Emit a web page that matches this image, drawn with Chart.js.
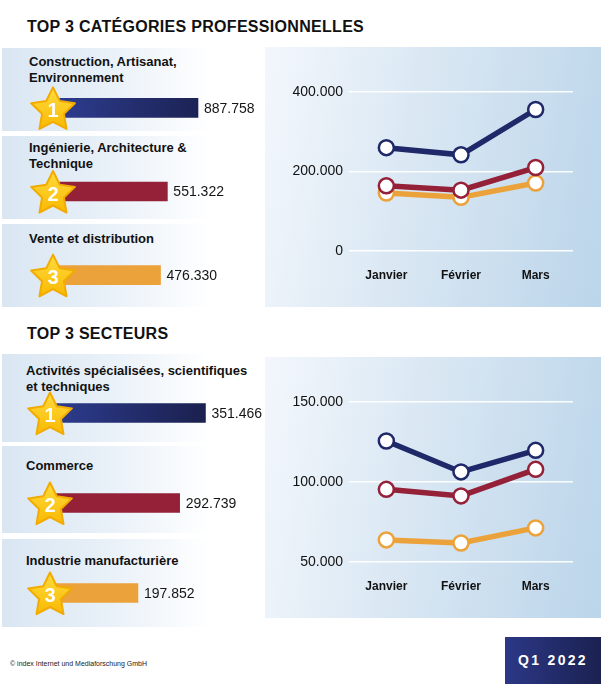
<!DOCTYPE html>
<html lang="fr">
<head>
<meta charset="utf-8">
<script src="https://cdn.jsdelivr.net/npm/chart.js@4.4.1/dist/chart.umd.min.js"></script>
<style>
  body { margin:0; width:601px; height:684px; position:relative; overflow:hidden; background:#fff;
         font-family:"Liberation Sans", Arial, sans-serif; color:#111; }
  .title { position:absolute; left:27px; font-size:16px; line-height:16px; font-weight:bold; letter-spacing:0.3px; }
  .panel { position:absolute; left:2px; width:260px;
           background:linear-gradient(90deg, #d9e6f2 0%, #e8f0f8 40%, #ffffff 80%); }
  .lab { position:absolute; font-size:13px; line-height:16px; font-weight:bold; white-space:pre-line; }
  .right { position:absolute; left:265px; width:336px;
           background:linear-gradient(100deg, #f3f7fc 0%, #d9e7f3 45%, #bbd5ea 100%); }
  canvas { position:absolute; }
  .foot { position:absolute; left:10px; top:660px; font-size:7px; color:#222; }
  .q { position:absolute; left:505px; top:637px; width:96px; height:47px;
       background:linear-gradient(90deg, #2c3887 0%, #1b2150 100%); color:#fff;
       font-weight:bold; font-size:14px; letter-spacing:2.3px; line-height:47px; text-align:center; }
</style>
</head>
<body>

<div class="title" style="top:19px">TOP 3 CATÉGORIES PROFESSIONNELLES</div>
<div class="title" style="top:326px">TOP 3 SECTEURS</div>

<div class="panel" style="top:48px;height:83px"></div>
<div class="panel" style="top:136px;height:83px"></div>
<div class="panel" style="top:224px;height:83px"></div>
<div class="panel" style="top:354px;height:88px"></div>
<div class="panel" style="top:446px;height:87px"></div>
<div class="panel" style="top:539px;height:88px"></div>

<div class="right" style="top:47px;height:260px"></div>
<div class="right" style="top:357px;height:261px"></div>

<div id="labels"></div>

<canvas id="barsTop" width="265" height="251" style="left:0;top:66px"></canvas>
<canvas id="barsBottom" width="265" height="270" style="left:0;top:368px"></canvas>
<canvas id="lineTop" width="336" height="260" style="left:265px;top:47px"></canvas>
<canvas id="lineBottom" width="336" height="261" style="left:265px;top:357px"></canvas>

<div class="foot">© index Internet und Mediaforschung GmbH</div>
<div class="q">Q1 2022</div>

<script>
// données
const catNames = ['Construction, Artisanat,\nEnvironnement', 'Ingénierie, Architecture &\nTechnique', 'Vente et distribution'];
const catTotals = [887758, 551322, 476330];
const secNames = ['Activités spécialisées, scientifiques\net techniques', 'Commerce', 'Industrie manufacturière'];
const secTotals = [351466, 292739, 197852];

const months = ['Janvier', 'Février', 'Mars'];
const catMonth1 = [260000, 242000, 356000];
const catMonth2 = [164000, 153000, 210000];
const catMonth3 = [146000, 135000, 171000];
const secMonth1 = [125600, 106300, 119800];
const secMonth2 = [95400, 91300, 107900];
const secMonth3 = [63800, 61900, 71300];

const catTicks = [0, 200000, 400000];
const secTicks = [50000, 100000, 150000];

const rankColors = ['#1f2868', '#952139', '#eca23a'];
const FONT = '"Liberation Sans", Arial, sans-serif';

const fmt = v => String(v).replace(/\B(?=(\d{3})+(?!\d))/g, '.');

// libellés au-dessus des barres
const labTops = [[53.5, 139.5, 231], [362.5, 457.5, 552.5]];
[[catNames, 29, labTops[0]], [secNames, 26, labTops[1]]].forEach(([names, left, tops]) => {
  names.forEach((n, i) => {
    const d = document.createElement('div');
    d.className = 'lab';
    d.style.left = left + 'px';
    d.style.top = tops[i] + 'px';
    d.textContent = n;
    document.getElementById('labels').appendChild(d);
  });
});

function barFill(ctx) {
  const i = ctx.dataIndex;
  if (i !== 0) return rankColors[i];
  const area = ctx.chart.chartArea;
  if (!area) return rankColors[0];
  const g = ctx.chart.ctx.createLinearGradient(area.left, 0, area.left + 150, 0);
  g.addColorStop(0, '#2d3c8f');
  g.addColorStop(1, '#1b2150');
  return g;
}

function drawStar(c, cx, cy, R, r) {
  c.beginPath();
  for (let k = 0; k < 10; k++) {
    const a = -Math.PI / 2 + k * Math.PI / 5;
    const rad = k % 2 ? r : R;
    c.lineTo(cx + rad * Math.cos(a), cy + rad * Math.sin(a));
  }
  c.closePath();
}

const starsPlugin = starX => ({
  id: 'stars',
  afterDatasetsDraw(chart) {
    const c = chart.ctx;
    const meta = chart.getDatasetMeta(0);
    c.save();
    meta.data.forEach((bar, i) => {
      // valeur
      c.fillStyle = '#151515';
      c.font = '14px ' + FONT;
      c.textAlign = 'left';
      c.textBaseline = 'middle';
      c.fillText(fmt(chart.data.datasets[0].data[i]), bar.x + 6, bar.y + 1);
      // étoile
      const cy = bar.y + 2.5;
      const g = c.createLinearGradient(0, cy - 24, 0, cy + 20);
      g.addColorStop(0, '#ffdc40');
      g.addColorStop(1, '#f9b800');
      drawStar(c, starX, cy, 23, 11.5);
      c.fillStyle = g;
      c.fill();
      c.lineJoin = 'round';
      c.lineWidth = 2;
      c.strokeStyle = '#f2ab00';
      c.stroke();
      c.fillStyle = '#fff';
      c.font = 'bold 20px ' + FONT;
      c.textAlign = 'center';
      c.fillText(String(i + 1), starX, cy + 1);
    });
    c.restore();
  }
});

function barChart(id, names, totals, o) {
  new Chart(document.getElementById(id), {
    type: 'bar',
    data: {
      labels: names,
      datasets: [{ data: totals, base: o.base, backgroundColor: barFill, barThickness: 19, borderWidth: 0 }]
    },
    options: {
      indexAxis: 'y', responsive: false, animation: false,
      layout: { padding: { left: o.left, right: 0, top: 0, bottom: 0 } },
      plugins: { legend: { display: false }, tooltip: { enabled: false } },
      scales: {
        x: { display: false, min: o.min, max: o.max },
        y: { display: false }
      }
    },
    plugins: [starsPlugin(o.starX)]
  });
}

barChart('barsTop', catNames, catTotals, { left: 58, min: -650000, max: 1624000, base: -650000, starX: 53 });
barChart('barsBottom', secNames, secTotals, { left: 51, min: 0, max: 487000, base: 0, starX: 50 });

function lineChart(id, series, ticks) {
  new Chart(document.getElementById(id), {
    type: 'line',
    data: {
      labels: months,
      datasets: series.map((d, i) => ({
        data: d,
        borderColor: rankColors[i],
        borderWidth: 5.5,
        pointRadius: 7.5,
        pointBorderWidth: 2.5,
        pointBackgroundColor: '#fff',
        pointBorderColor: rankColors[i],
        tension: 0,
        clip: false
      }))
    },
    options: {
      responsive: false, animation: false,
      layout: { padding: { top: 45, right: 28, left: 0, bottom: 0 } },
      plugins: { legend: { display: false }, tooltip: { enabled: false } },
      scales: {
        x: {
          offset: true,
          grid: { display: false, drawTicks: false },
          border: { display: false },
          ticks: { color: '#111', font: { family: FONT, size: 12, weight: 'bold' }, padding: 17, maxRotation: 0 },
          afterFit: s => { s.height = 56; }
        },
        y: {
          min: ticks[0], max: ticks[ticks.length - 1],
          grid: { color: 'rgba(255,255,255,0.95)', lineWidth: 1.5, drawTicks: false },
          border: { display: false },
          ticks: { color: '#111', font: { family: FONT, size: 14 }, padding: 6, callback: v => fmt(v) },
          afterBuildTicks: s => { s.ticks = ticks.map(v => ({ value: v })); },
          afterFit: s => { s.width = 84; }
        }
      }
    }
  });
}

lineChart('lineTop', [catMonth1, catMonth2, catMonth3], catTicks);
lineChart('lineBottom', [secMonth1, secMonth2, secMonth3], secTicks);
</script>
</body>
</html>
